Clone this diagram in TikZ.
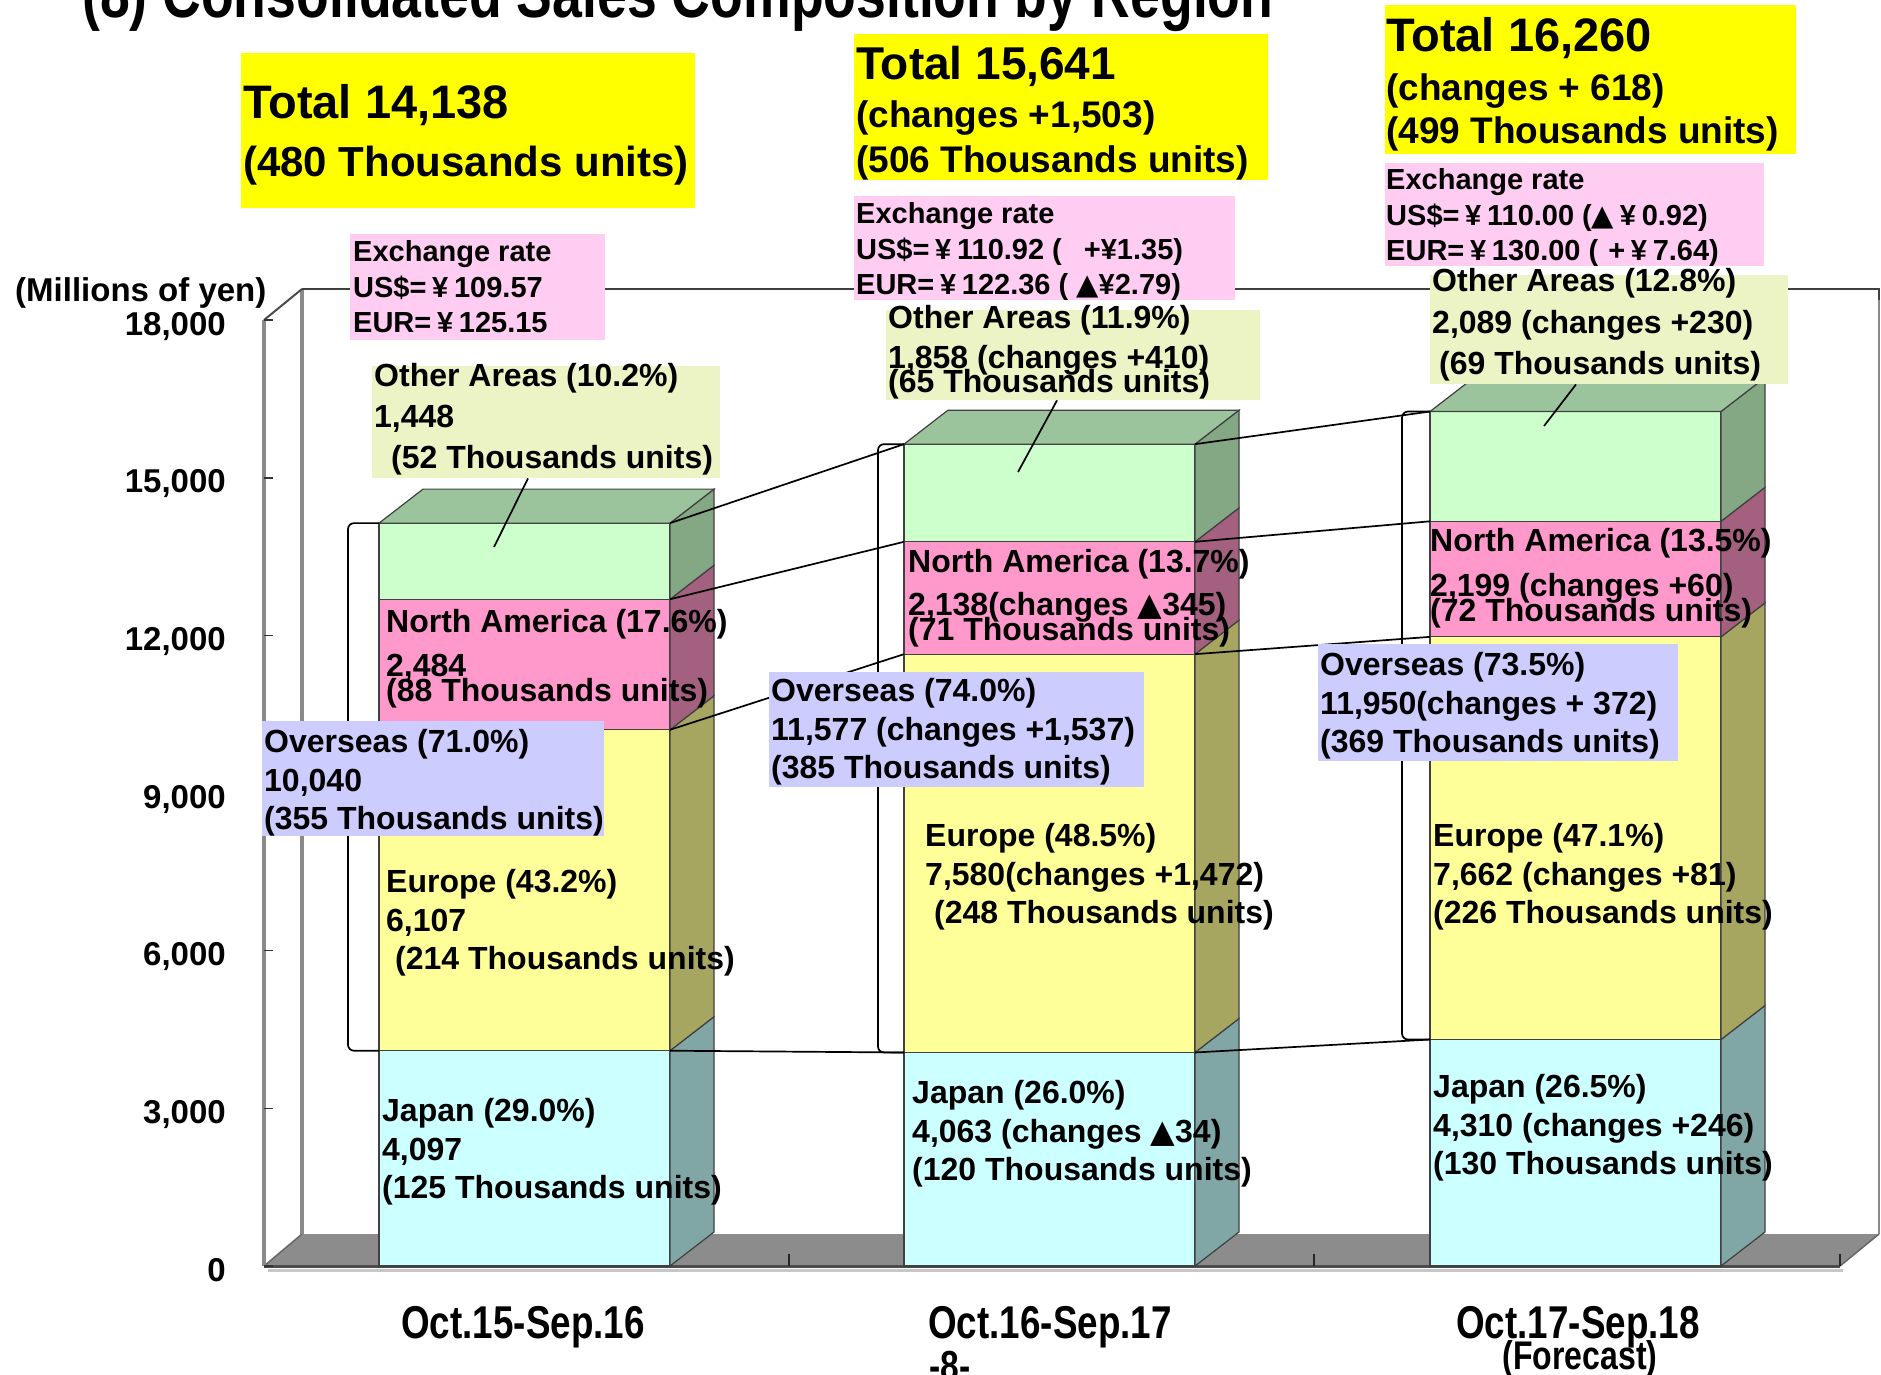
\documentclass[tikz,border=0pt]{standalone}
\usepackage{fontspec}
\setmainfont{Liberation Sans}
\newfontfamily\narrowf[FakeStretch=0.8]{Liberation Sans}
\newfontfamily\dejavu{DejaVu Sans}
\usetikzlibrary{calc}
\newcommand\tri{{\dejavu\mdseries ▲}}
\newcommand\yen{\makebox[0.95em]{¥}}
\newcommand\fsz[2]{\fontsize{#1}{#2}\selectfont}
\definecolor{jpF}{HTML}{CCFFFF}\definecolor{jpS}{HTML}{80A6A6}
\definecolor{euF}{HTML}{FFFF99}\definecolor{euS}{HTML}{A6A660}
\definecolor{naF}{HTML}{FF99CC}\definecolor{naS}{HTML}{A3607F}
\definecolor{otF}{HTML}{CCFFCC}\definecolor{otS}{HTML}{84A884}\definecolor{otT}{HTML}{9CC49C}
\definecolor{ybox}{HTML}{FFFF00}\definecolor{pbox}{HTML}{FFCCF2}
\definecolor{gbox}{HTML}{ECF4C5}\definecolor{ubox}{HTML}{CCCCFF}
\definecolor{floorg}{HTML}{8C8C8C}\definecolor{wallg}{HTML}{8A8A8A}
% bar: #1 name, #2 left x, #3-#6 values
\newcommand\mkbar[6]{%
  \pgfmathsetmacro\byA{1266-0.05255*#3}%
  \pgfmathsetmacro\byB{\byA-0.05255*#4}%
  \pgfmathsetmacro\byC{\byB-0.05255*#5}%
  \pgfmathsetmacro\byD{\byC-0.05255*#6}%
  \pgfmathsetmacro\bxR{#2+291}%
  \mkseg{#2}{\bxR}{1266}{\byA}{jpF}{jpS}%
  \mkseg{#2}{\bxR}{\byA}{\byB}{euF}{euS}%
  \mkseg{#2}{\bxR}{\byB}{\byC}{naF}{naS}%
  \mkseg{#2}{\bxR}{\byC}{\byD}{otF}{otS}%
  \filldraw[fill=otT,barline] (#2,\byD) -- ++(44,-34) -- (\bxR+44,\byD-34) -- (\bxR,\byD) -- cycle;
  \coordinate (#1-L1) at (#2,\byA); \coordinate (#1-R1) at (\bxR,\byA);
  \coordinate (#1-L2) at (#2,\byB); \coordinate (#1-R2) at (\bxR,\byB);
  \coordinate (#1-L3) at (#2,\byC); \coordinate (#1-R3) at (\bxR,\byC);
  \coordinate (#1-L4) at (#2,\byD); \coordinate (#1-R4) at (\bxR,\byD);
}
\newcommand\mkseg[6]{%
  \filldraw[fill=#5,barline] (#1,#3) rectangle (#2,#4);
  \filldraw[fill=#6,barline] (#2,#3) -- (#2+44,#3-34) -- (#2+44,#4-34) -- (#2,#4) -- cycle;
}
\begin{document}
\begin{tikzpicture}[x=1pt,y=-1pt,
  barline/.style={draw=black!75,line width=1.2pt},
  txt/.style={inner sep=0pt,anchor=north west,align=left,font=\bfseries\fsz{32}{38.5}},
  ptxt/.style={inner sep=0pt,anchor=north west,align=left,font=\bfseries\fsz{29}{35.5}},
  boxn/.style={inner sep=0pt,anchor=north west,fill=#1},
  conn/.style={black,line width=1.7pt},
  bracketline/.style={black,line width=1.7pt,rounded corners=6pt},
  ticklab/.style={inner sep=0pt,anchor=base east,font=\bfseries\fsz{33}{40}},
  catlab/.style={inner sep=0pt,anchor=base,font=\narrowf\bfseries\fsz{46}{50}}
]
\useasboundingbox (0,0) rectangle (1881,1374);
% title (cut off at top)
\node[inner sep=0pt,anchor=base west,font=\narrowf\bfseries\fsz{67}{70}] (title) at (82,17) {(8) Consolidated Sales Composition by Region};
% walls and floor
\fill[floorg] (264,1266) -- (1840,1266) -- (1879,1234) -- (302,1234) -- cycle;
\draw[black!22,line width=3pt] (268,1270) -- (1843,1270);
\draw[black!70,line width=3pt] (264,1266) -- (1840,1266);
\draw[black!60,line width=1.5pt] (1840,1266) -- (1879,1234);
\draw[black!60,line width=1.5pt] (264,1266) -- (302,1234);
\draw[wallg,line width=4pt] (264,320) -- (264,1266);
\draw[wallg,line width=4pt] (302,289) -- (302,1234);
\draw[black!70,line width=2pt] (264,320) -- (302,289);
\draw[black!75,line width=2.5pt] (302,289) -- (1879,289) -- (1879,300);
\draw[wallg,line width=2.5pt] (1879,300) -- (1879,1234);
\foreach \k in {0,1,...,6}{
  \draw[black!80,line width=1.5pt] (264,1266-157.65*\k) -- ++(9,0);}
\foreach \x in {789,1314,1840}{
  \draw[black!85,line width=1.5pt] (\x,1266) -- ++(0,-12);}
% tick labels
\node[ticklab] (t0) at (226,1281) {0};
\node[ticklab] (t3) at (226,1281-157.65) {3,000};
\node[ticklab] (t6) at (226,1281-315.3) {6,000};
\node[ticklab] (t9) at (226,1281-472.95) {9,000};
\node[ticklab] (t12) at (226,1281-630.6) {12,000};
\node[ticklab] (t15) at (226,1281-788.25) {15,000};
\node[ticklab] (t18) at (226,1281-945.9) {18,000};
\node[inner sep=0pt,anchor=base west,font=\bfseries\fsz{33}{40}] (unit) at (15,301) {(Millions of yen)};
% bars
\mkbar{b1}{379}{4097}{6107}{2484}{1448}
\mkbar{b2}{904}{4063}{7580}{2138}{1858}
\mkbar{b3}{1430}{4310}{7662}{2199}{2089}
% series lines
\foreach \k in {1,2,3,4}{
  \draw[conn] (b1-R\k) -- (b2-L\k);
  \draw[conn] (b2-R\k) -- (b3-L\k);}
% brackets
\draw[bracketline] (b1-L4) -- ++(-31,0) |- (b1-L1);
\draw[bracketline] (b2-L4) -- ++(-26,0) |- (b2-L1);
\draw[bracketline] (b3-L4) -- ++(-28,0) |- (b3-L1);
% bar labels
\node[txt] (na1) at (386,609.5) {North America (17.6\%)\\[5.5pt]2,484\\[-13.5pt](88 Thousands units)};
\node[txt] (eu1) at (386,869.5) {Europe (43.2\%)\\6,107\\\hspace*{9pt}(214 Thousands units)};
\node[txt] (jp1) at (382,1098.5) {Japan (29.0\%)\\4,097\\(125 Thousands units)};
\node[txt] (na2) at (908,549.5) {North America (13.7\%)\\[4.5pt]2,138(changes \tri345)\\[-13.5pt](71 Thousands units)};
\node[txt] (eu2) at (925,823.5) {Europe (48.5\%)\\7,580(changes +1,472)\\\hspace*{9pt}(248 Thousands units)};
\node[txt] (jp2) at (912,1080.5) {Japan (26.0\%)\\4,063 (changes \tri34)\\(120 Thousands units)};
\node[txt] (na3) at (1430,528.5) {North America (13.5\%)\\[6.5pt]2,199 (changes +60)\\[-13.5pt](72 Thousands units)};
\node[txt] (eu3) at (1433,823.5) {Europe (47.1\%)\\7,662 (changes +81)\\(226 Thousands units)};
\node[txt] (jp3) at (1433,1074.5) {Japan (26.5\%)\\4,310 (changes +246)\\(130 Thousands units)};
% leader lines for other areas
\coordinate (o1) at (494,547); \coordinate (o2) at (1018,472); \coordinate (o3) at (1544,426);
% green boxes
\node[boxn=gbox,minimum width=348,minimum height=112] (g1) at (372,366) {};
\node[boxn=gbox,minimum width=374,minimum height=90] (g2) at (886,310) {};
\node[boxn=gbox,minimum width=358,minimum height=109] (g3) at (1430,275) {};
\draw[conn] (g1.south west) ++(156,0) -- (o1);
\draw[conn] (g2.south west) ++(171,0) -- (o2);
\draw[conn] (g3.south west) ++(146,0) -- (o3);
\node[txt,font=\bfseries\fsz{32}{41}] (g1t) at (374,363.5) {Other Areas (10.2\%)\\1,448\\\hspace*{17pt}(52 Thousands units)};
\node[txt,font=\bfseries\fsz{32}{40}] (g2t) at (888,305.5) {Other Areas (11.9\%)\\1,858 (changes +410)\\[-16pt](65 Thousands units)};
\node[txt,font=\bfseries\fsz{32}{41.5}] (g3t) at (1432,268.5) {Other Areas (12.8\%)\\2,089 (changes +230)\\\hspace*{7pt}(69 Thousands units)};
% overseas boxes
\node[boxn=ubox,minimum width=342,minimum height=115] (u1) at (262,721) {};
\node[boxn=ubox,minimum width=375,minimum height=115] (u2) at (769,672) {};
\node[boxn=ubox,minimum width=360,minimum height=117] (u3) at (1318,644) {};
\node[txt] (u1t) at (264,729.5) {Overseas (71.0\%)\\10,040\\(355 Thousands units)};
\node[txt] (u2t) at (771,678.5) {Overseas (74.0\%)\\11,577 (changes +1,537)\\(385 Thousands units)};
\node[txt] (u3t) at (1320,652.5) {Overseas (73.5\%)\\11,950(changes + 372)\\(369 Thousands units)};
% exchange rate boxes
\node[boxn=pbox,minimum width=255,minimum height=106] (p1) at (350,234) {};
\node[boxn=pbox,minimum width=381,minimum height=104] (p2) at (854,196) {};
\node[boxn=pbox,minimum width=379,minimum height=103] (p3) at (1385,163) {};
\node[ptxt] (p1t) at (353,240.7) {Exchange rate\\US\$=\yen 109.57\\EUR=\yen125.15};
\node[ptxt] (p2t) at (856,202.7) {Exchange rate\\US\$=\yen 110.92 (\hspace{22pt}+¥1.35)\\EUR=\yen122.36 ( \tri¥2.79)};
\node[ptxt] (p3t) at (1386,168.7) {Exchange rate\\US\$=\yen 110.00 (\tri\yen0.92)\\EUR=\yen130.00 (\hspace{10pt}+\yen7.64)};
% total boxes
\node[boxn=ybox,minimum width=454,minimum height=155] (y1) at (241,53) {};
\node[boxn=ybox,minimum width=414,minimum height=146] (y2) at (854,34) {};
\node[boxn=ybox,minimum width=411,minimum height=149] (y3) at (1385,5) {};
\node[txt,font=\bfseries\fsz{47}{56}] (y1a) at (243,84.7) {Total 14,138};
\node[txt,font=\bfseries\fsz{42}{50}] (y1b) at (243,145.6) {(480 Thousands units)};
\node[txt,font=\bfseries\fsz{46}{56}] (y2a) at (856,46) {Total 15,641};
\node[txt,font=\bfseries\fsz{37}{45}] (y2b) at (856,100.6) {(changes +1,503)\\(506 Thousands units)};
\node[txt,font=\bfseries\fsz{47}{56}] (y3a) at (1386,17.7) {Total 16,260};
\node[txt,font=\bfseries\fsz{37}{43}] (y3b) at (1386,73.6) {(changes + 618)\\(499 Thousands units)};
% category labels
\node[catlab] (c1) at (523,1338) {Oct.15-Sep.16};
\node[catlab] (c2) at (1050,1338) {Oct.16-Sep.17};
\node[catlab] (c3) at (1578,1338) {Oct.17-Sep.18};
\node[catlab,font=\narrowf\bfseries\fsz{40}{44}] (c3f) at (1580,1369) {(Forecast)};
\node[catlab,font=\narrowf\bfseries\fsz{42}{46}] (pg) at (950,1380) {-8-};
\end{tikzpicture}
\end{document}
